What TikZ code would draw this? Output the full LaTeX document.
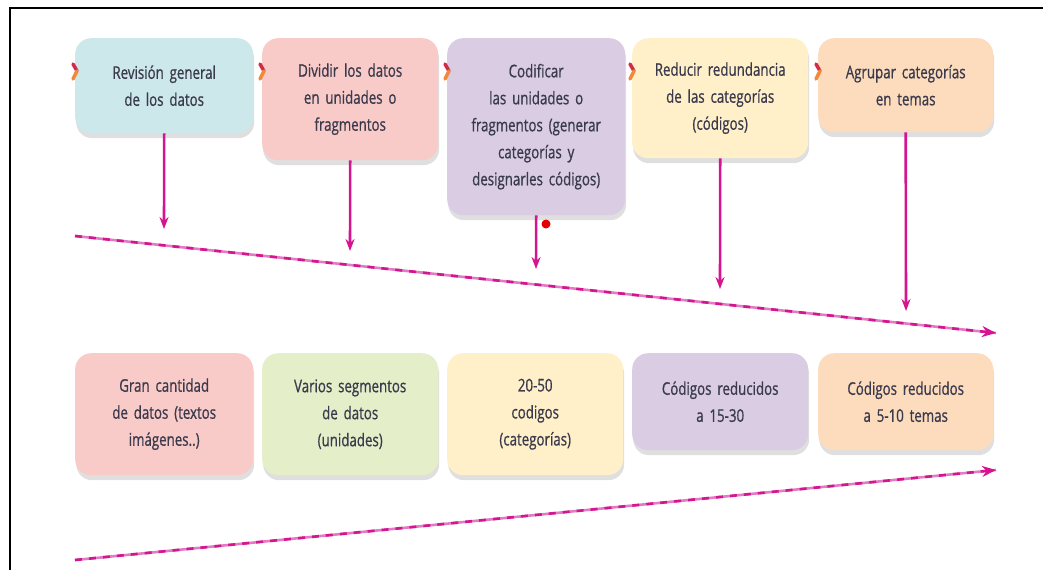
\documentclass[tikz,border=0pt]{standalone}
\usepackage{fontspec}
\setmainfont[FakeStretch=0.76,FakeBold=0.8]{Open Sans}
\usetikzlibrary{shadows,arrows.meta}
\definecolor{cteal}{HTML}{CDE8EA}
\definecolor{cpink}{HTML}{F9CBC8}
\definecolor{cpurple}{HTML}{D9CCE3}
\definecolor{cyellow}{HTML}{FFF0C9}
\definecolor{cpeach}{HTML}{FDDCBD}
\definecolor{cgreen}{HTML}{E4EFCA}
\definecolor{cmag}{HTML}{D5158F}
\definecolor{cline}{HTML}{E27CC2}
\definecolor{ctext}{HTML}{3A3A4C}
\definecolor{cred}{HTML}{D42A4A}
\definecolor{corange}{HTML}{F08A3A}
\tikzset{
  box/.style={rounded corners=16pt, anchor=north west, text width=#1, align=center,
    font=\fontsize{17.5}{27}\selectfont, text=ctext, inner sep=0pt,
    drop shadow={shadow xshift=1pt, shadow yshift=-5pt, opacity=.18, fill=black!70}},
  downarrow/.style={draw=cmag, line width=2.6pt, -{Stealth[length=12pt,width=9pt]}},
  longline/.style={draw=cline, line width=2.6pt},
  longdash/.style={draw=cmag, line width=2.6pt, dash pattern=on 7pt off 7pt, -{Stealth[length=14pt,width=11pt]}},
  frame/.style={draw=black, line width=2pt}
}
\begin{document}
\begin{tikzpicture}[x=1pt,y=-1pt]
\useasboundingbox (0,0) rectangle (1043,570);
% frame
\coordinate (fa) at (10,570);
\coordinate (fb) at (10,8);
\coordinate (fc) at (1043,8);
\draw[frame] (fa) -- (fb) -- (fc);

% top row
\node[box=178pt, fill=cteal, minimum height=95pt] (t1) at (75,38) {Revisión general\\de los datos};
\node[box=176pt, fill=cpink, minimum height=122pt] (t2) at (262,38) {Dividir los datos\\en unidades o\\fragmentos};
\node[box=178pt, fill=cpurple, minimum height=177pt] (t3) at (447,38) {Codificar\\las unidades o\\fragmentos (generar\\categorías y\\designarles códigos)};
\node[box=176pt, fill=cyellow, minimum height=120pt] (t4) at (632,38) {Reducir redundancia\\de las categorías\\(códigos)};
\node[box=175pt, fill=cpeach, minimum height=94pt] (t5) at (818,38) {Agrupar categorías\\en temas};

% markers
\foreach \n in {t1,t2,t3,t4,t5}{
  \draw[cred, line width=3.5pt, line cap=round] ([shift={(-2,26)}]\n.north west) -- ([shift={(2,33)}]\n.north west);
  \draw[corange, line width=3.5pt, line cap=round] ([shift={(2,33)}]\n.north west) -- ([shift={(-2,41)}]\n.north west);
}

% down arrows
\coordinate (a1) at (164,229);
\coordinate (a2) at (350,251);
\coordinate (a3) at (536,269);
\coordinate (a4) at (720,289);
\coordinate (a5) at (906,311);
\draw[downarrow] (t1.south) -- (a1);
\draw[downarrow] (t2.south) -- (a2);
\draw[downarrow] (t3.south) -- (a3);
\draw[downarrow] (t4.south) -- (a4);
\draw[downarrow] (t5.south) -- (a5);
\node[circle, fill=red!90!black, inner sep=0pt, minimum size=9pt] (dot) at (546,224) {};

% descending line
\coordinate (d1) at (75,236);
\coordinate (d2) at (996,333);
\draw[longline] (d1) -- (d2);
\draw[longdash] (d1) -- (d2);

% bottom row
\node[box=178pt, fill=cpink, minimum height=122pt] (b1) at (75,353) {Gran cantidad\\de datos (textos\\imágenes..)};
\node[box=176pt, fill=cgreen, minimum height=122pt] (b2) at (262,353) {Varios segmentos\\de datos\\(unidades)};
\node[box=176pt, fill=cyellow, minimum height=122pt] (b3) at (447,353) {20-50\\codigos\\(categorías)};
\node[box=176pt, fill=cpurple, minimum height=97pt] (b4) at (632,353) {Códigos reducidos\\a 15-30};
\node[box=175pt, fill=cpeach, minimum height=97pt] (b5) at (818,353) {Códigos reducidos\\a 5-10 temas};

% ascending line
\coordinate (u1) at (75,560);
\coordinate (u2) at (996,470);
\draw[longline] (u1) -- (u2);
\draw[longdash] (u1) -- (u2);
\end{tikzpicture}
\end{document}
